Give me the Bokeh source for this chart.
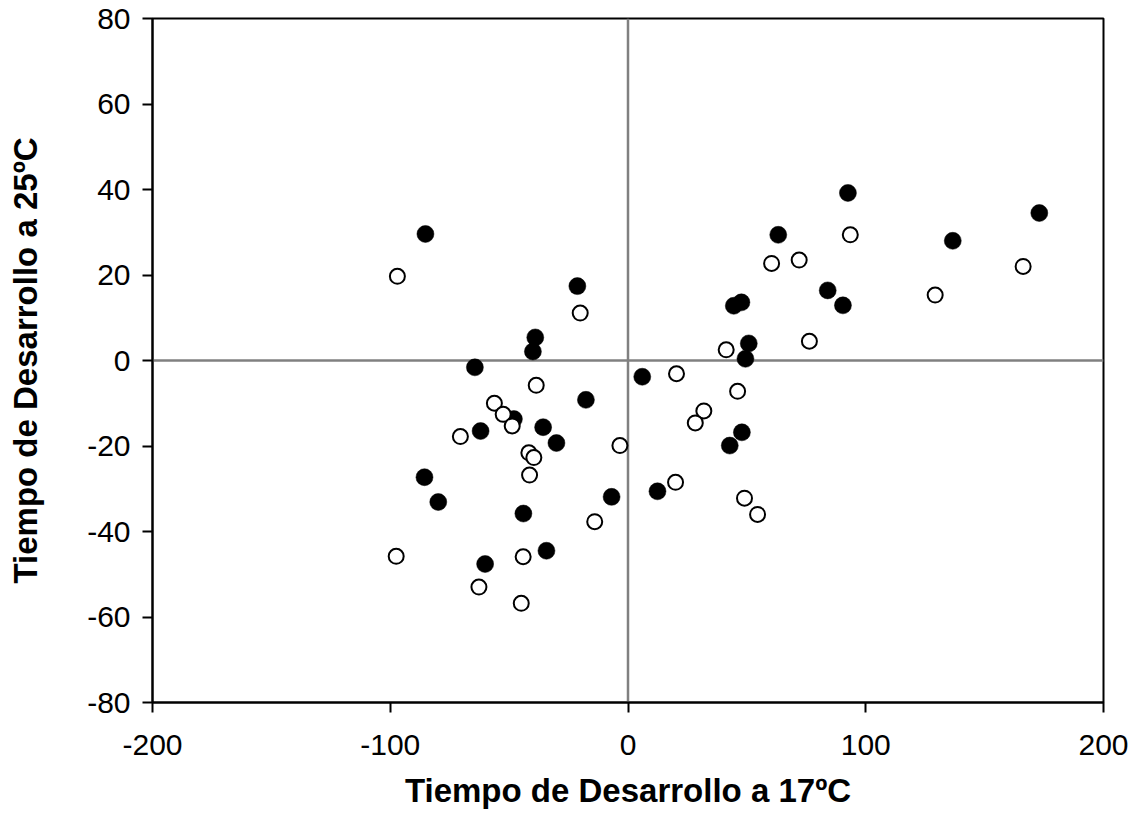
from bokeh.plotting import figure
from bokeh.models import Span, FixedTicker
from bokeh.embed import file_html
from bokeh.resources import INLINE

# Development time deviations at 17 ºC (x) and 25 ºC (y)
filled_x = [-85.2, -21.3, -39.0, -40.0, -64.4, 6.0, -17.7, -48.0, -35.7, -62.0,
            -30.1, -85.6, -79.8, -44.0, -6.9, -34.3, -60.1, 92.5, 63.2, 84.0,
            90.4, 44.5, 47.7, 50.8, 49.4, 47.9, 42.8, 136.6, 173.0, 12.4]
filled_y = [29.6, 17.4, 5.4, 2.1, -1.6, -3.8, -9.2, -13.7, -15.6, -16.5,
            -19.3, -27.3, -33.1, -35.8, -31.9, -44.5, -47.6, 39.2, 29.4, 16.4,
            12.9, 12.8, 13.6, 4.0, 0.4, -16.8, -19.9, 28.0, 34.5, -30.6]

open_x = [-97.0, -20.1, -38.6, -56.2, -52.5, -48.7, -70.5, -3.4, -41.7, -39.6,
          -41.4, -14.0, -97.5, -44.1, -62.7, -44.9, 93.5, 60.4, 72.0, 41.3,
          76.3, 20.4, 46.1, 31.9, 28.3, 129.2, 166.2, 20.0, 49.0, 54.5]
open_y = [19.7, 11.1, -5.8, -10.0, -12.6, -15.3, -17.8, -19.9, -21.6, -22.7,
          -26.8, -37.7, -45.8, -45.9, -53.0, -56.8, 29.4, 22.7, 23.5, 2.5,
          4.5, -3.1, -7.2, -11.8, -14.6, 15.3, 22.0, -28.5, -32.2, -36.0]

x_ticks = [-200, -100, 0, 100, 200]
y_ticks = [-80, -60, -40, -20, 0, 20, 40, 60, 80]

x_title = "Tiempo de Desarrollo a 17ºC"
y_title = "Tiempo de Desarrollo a 25ºC"

FONT = "Liberation Sans"

p = figure(width=1139, height=823, x_range=(-200, 200), y_range=(-80, 80),
           output_backend="svg", toolbar_location=None,
           min_border_left=152, min_border_right=36,
           min_border_top=18, min_border_bottom=121)

p.background_fill_color = "white"
p.border_fill_color = "white"
p.outline_line_color = "black"
p.outline_line_width = 2
p.grid.visible = False

for ax, ticks in ((p.xaxis, x_ticks), (p.yaxis, y_ticks)):
    ax.ticker = FixedTicker(ticks=ticks)
    # plain hyphen-minus for negative numbers
    ax.major_label_overrides = {t: str(t) for t in ticks}
    ax.axis_line_color = "black"
    ax.axis_line_width = 2
    ax.major_tick_line_color = "black"
    ax.major_tick_line_width = 2
    ax.major_tick_out = 10
    ax.major_tick_in = 0
    ax.minor_tick_line_color = None
    ax.major_label_text_font = FONT
    ax.major_label_text_font_size = "30px"
    ax.major_label_text_color = "black"
    ax.axis_label_text_font = FONT
    ax.axis_label_text_font_size = "33px"
    ax.axis_label_text_font_style = "bold"
    ax.axis_label_text_color = "black"

p.xaxis.major_label_standoff = 22
p.yaxis.major_label_standoff = 12

p.xaxis.axis_label = x_title
p.yaxis.axis_label = y_title
p.xaxis.axis_label_standoff = 14
p.yaxis.axis_label_standoff = 40

# reference lines through the origin
p.add_layout(Span(location=0, dimension="height", line_color="#808080",
                  line_width=2.5, level="underlay"))
p.add_layout(Span(location=0, dimension="width", line_color="#808080",
                  line_width=2.5, level="underlay"))

p.scatter(filled_x, filled_y, marker="circle", size=17,
          fill_color="black", line_color="black", line_width=0.5)
p.scatter(open_x, open_y, marker="circle", size=15,
          fill_color="white", line_color="black", line_width=2)

open("out.html", "w").write(file_html(p, INLINE))
